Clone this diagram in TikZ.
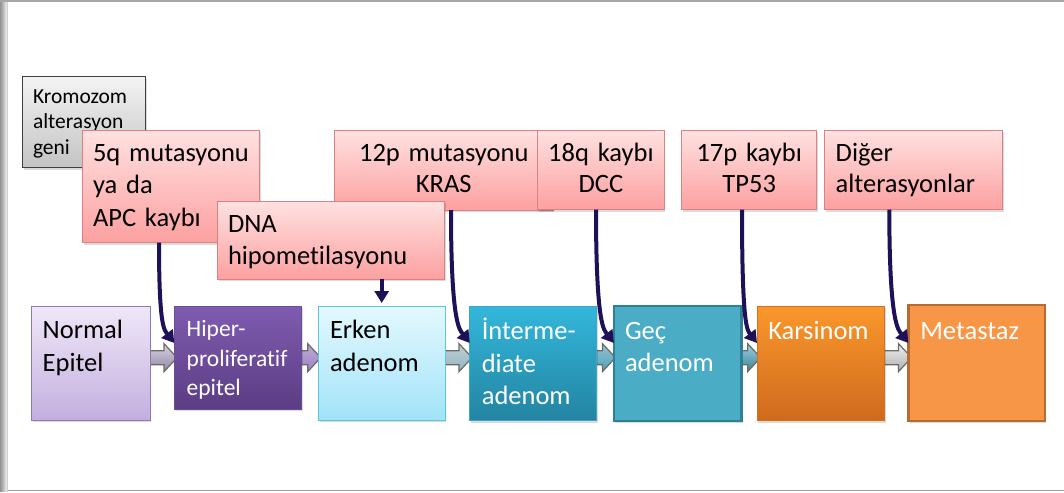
\documentclass[tikz,border=0pt]{standalone}
\usepackage{fontspec}
\setmainfont{Carlito}[Ligatures={NoCommon}]
\usetikzlibrary{arrows.meta,shadows,calc}
\pgfdeclarelayer{background}
\pgfsetlayers{background,main}

\definecolor{pinktop}{HTML}{FFE1E1}
\definecolor{pinkbot}{HTML}{FCA0A0}
\definecolor{pinkline}{HTML}{D98282}
\definecolor{graytop}{HTML}{F3F3F3}
\definecolor{graybot}{HTML}{C3C3C3}
\definecolor{grayline}{HTML}{3F3F3F}
\definecolor{normtop}{HTML}{EFE7F8}
\definecolor{normbot}{HTML}{C3AFDF}
\definecolor{normline}{HTML}{8E79B8}
\definecolor{hiptop}{HTML}{7F5CB0}
\definecolor{hipbot}{HTML}{5B3D83}
\definecolor{hipline}{HTML}{6A4E96}
\definecolor{erktop}{HTML}{E4F8FE}
\definecolor{erkbot}{HTML}{A1E3F8}
\definecolor{erkline}{HTML}{5BC5DD}
\definecolor{inttop}{HTML}{33B7DB}
\definecolor{intbot}{HTML}{2384A2}
\definecolor{intline}{HTML}{3AA9C9}
\definecolor{gecfill}{HTML}{4BACC6}
\definecolor{gecline}{HTML}{2F7F95}
\definecolor{kartop}{HTML}{FA972B}
\definecolor{karbot}{HTML}{CF6A1D}
\definecolor{metfill}{HTML}{F79646}
\definecolor{metline}{HTML}{B86B2F}
\definecolor{navy}{HTML}{1E1158}
\definecolor{arrowline}{HTML}{6A6A6A}

% fat block arrow between two stage boxes:
% #1 start point, #2 total length, #3 top colour, #4 bottom colour
\newcommand{\flowarrow}[4]{%
  \draw[line width=1.2pt, draw=arrowline, top color=#3, bottom color=#4]
    (#1) ++(0,-7) -- ++({#2-13},0) -- ++(0,-7) -- ++(13,14)
    -- ++(-13,14) -- ++(0,-7) -- ++({-(#2-13)},0) -- cycle;}

\begin{document}
\begin{tikzpicture}[x=1pt,y=-1pt,
  box/.style={anchor=north west, inner sep=0pt, outer sep=0pt, line width=1pt,
    drop shadow={shadow xshift=1.2pt, shadow yshift=-2pt, opacity=0.14, fill=black}},
  pinkbox/.style={box, draw=pinkline, top color=pinktop, bottom color=pinkbot},
  lbl/.style={anchor=base west, inner sep=0pt, outer sep=0pt, align=left, text width=#1},
  clbl/.style={anchor=base, inner sep=0pt, outer sep=0pt, align=center, text width=#1},
  navyarrow/.style={draw=navy, line width=4pt, -{Triangle[length=12pt,width=14pt]}},
]
\useasboundingbox (0,0) rectangle (1064,492);

% page frame: soft left edge, thin top and bottom rules
\begin{pgfonlayer}{background}
  \fill[white] (0,0) rectangle (1064,492);
  \foreach \i/\c in {0/42,1/38,2/33,3/27,4/21,5/15,6/10,7/18}
    \fill[black!\c] (\i,0) rectangle (\i+1,492);
  \draw[black!35, line width=1.6pt] (0,0.8) -- (1064,0.8);
  \draw[black!38, line width=1.6pt] (8,490.6) -- (1064,490.6);
\end{pgfonlayer}

% alteration boxes (upper row)
\node[box, draw=grayline, top color=graytop, bottom color=graybot,
      minimum width=123pt, minimum height=91pt] (krom) at (22.7,76.7) {};
\node[lbl=115pt, font={\fontsize{21.5}{25.5}\selectfont}] (tkrom)
  at ([xshift=10.3pt,yshift=-26.6pt]krom.north west) {Kromozom\\alterasyon\\geni};

\node[pinkbox, minimum width=176.6pt, minimum height=112.7pt] (n5q) at (82.7,130) {};
\node[lbl=170pt, font={\fontsize{26.5}{32.5}\selectfont}] (t5q)
  at ([xshift=10.3pt,yshift=-31pt]n5q.north west) {5q mutasyonu\\ya da\\APC kaybı};

\node[pinkbox, minimum width=218.5pt, minimum height=80pt] (n12p) at (334.5,130) {};
\node[clbl=215pt, font={\fontsize{26.5}{31}\selectfont}] (t12p)
  at ([yshift=-31.7pt]n12p.north) {12p mutasyonu\\KRAS};

\node[pinkbox, minimum width=126.3pt, minimum height=79.5pt] (n18q) at (537.7,130) {};
\node[clbl=125pt, font={\fontsize{26.5}{31}\selectfont}] (t18q)
  at ([yshift=-31.7pt]n18q.north) {18q kaybı\\DCC};

\node[pinkbox, minimum width=135pt, minimum height=79.5pt] (n17p) at (681.7,130) {};
\node[clbl=134pt, font={\fontsize{26.5}{31}\selectfont}] (t17p)
  at ([yshift=-31.7pt]n17p.north) {17p kaybı\\TP53};

\node[pinkbox, minimum width=178.4pt, minimum height=79.5pt] (ndig) at (824.3,130) {};
\node[lbl=170pt, font={\fontsize{26.5}{31}\selectfont}] (tdig)
  at ([xshift=11.4pt,yshift=-31.7pt]ndig.north west) {Diğer\\alterasyonlar};

\node[pinkbox, minimum width=226.6pt, minimum height=78.3pt] (ndna) at (217.7,201) {};
\node[lbl=220pt, font={\fontsize{26.5}{31.5}\selectfont}] (tdna)
  at ([xshift=10.3pt,yshift=-31.7pt]ndna.north west) {DNA\\hipometilasyonu};

% stage boxes (lower row)
\node[box, draw=normline, top color=normtop, bottom color=normbot,
      minimum width=118.3pt, minimum height=113.3pt] (normal) at (31.7,306.7) {};
\node[lbl=110pt, font={\fontsize{26.5}{33.4}\selectfont}] (tnormal)
  at ([xshift=11pt,yshift=-31.6pt]normal.north west) {Normal\\Epitel};

\node[box, draw=hipline, top color=hiptop, bottom color=hipbot,
      minimum width=127.4pt, minimum height=103.3pt] (hiper) at (174.3,306) {};
\node[lbl=120pt, text=white, font={\fontsize{23.5}{29.3}\selectfont}] (thiper)
  at ([xshift=12.4pt,yshift=-30.7pt]hiper.north west) {Hiper-\\proliferatif\\epitel};

\node[box, draw=erkline, top color=erktop, bottom color=erkbot,
      minimum width=126.7pt, minimum height=114pt] (erken) at (318.3,306) {};
\node[lbl=120pt, font={\fontsize{26.5}{33.4}\selectfont}] (terken)
  at ([xshift=11.7pt,yshift=-32.3pt]erken.north west) {Erken\\adenom};

\node[box, draw=intline, top color=inttop, bottom color=intbot,
      minimum width=126.6pt, minimum height=114.7pt] (interm) at (469.8,306) {};
\node[lbl=120pt, text=white, font={\fontsize{26.5}{32.8}\selectfont}] (tinterm)
  at ([xshift=12pt,yshift=-33.3pt]interm.north west) {İnterme-\\diate\\adenom};

\node[box, draw=gecline, line width=2.5pt, fill=gecfill,
      minimum width=127.7pt, minimum height=115pt] (gec) at (613.9,306) {};
\node[lbl=120pt, text=white, font={\fontsize{26.5}{32.4}\selectfont}] (tgec)
  at ([xshift=11.1pt,yshift=-33.3pt]gec.north west) {Geç\\adenom};

\node[box, draw=karbot!90!kartop, top color=kartop, bottom color=karbot,
      minimum width=127.5pt, minimum height=114.7pt] (kars) at (757,306) {};
\node[lbl=120pt, text=white, font={\fontsize{26.5}{32.4}\selectfont}] (tkars)
  at ([xshift=11.3pt,yshift=-33.3pt]kars.north west) {Karsinom};

\node[box, draw=metline, line width=2.5pt, fill=metfill,
      minimum width=136.6pt, minimum height=116pt] (meta) at (908.4,305) {};
\node[lbl=125pt, text=white, font={\fontsize{26.5}{32.4}\selectfont}] (tmeta)
  at ([xshift=11.9pt,yshift=-34pt]meta.north west) {Metastaz};

% block arrows between the stages (behind the boxes)
\begin{pgfonlayer}{background}
  \flowarrow{$(normal.east |- hiper.west)+(-2,0)$}{29}{normtop!80!gray}{normbot!75!black}
  \flowarrow{$(hiper.east |- hiper.west)+(-2,0)$}{21}{normbot!90!gray}{hiptop!55!normbot}
  \flowarrow{$(erken.east |- hiper.west)+(-2,0)$}{29}{erktop!65!gray}{erkbot!55!gray}
  \flowarrow{$(interm.east |- hiper.west)+(-2,0)$}{21}{erkbot!65!gray}{inttop!65!gray}
  \flowarrow{$(gec.east |- hiper.west)+(-2,0)$}{21}{gecfill!55!white}{gecfill!75!black}
  \flowarrow{$(kars.east |- hiper.west)+(-2,0)$}{29}{black!6}{black!32}
\end{pgfonlayer}

% alterations acting on the stages
\draw[navyarrow] ([xshift=76.3pt]n5q.south west)
  .. controls +(0,85) and +(-10,-13) .. ([yshift=-37pt]hiper.north west);
\draw[navyarrow] ([xshift=116.5pt]n12p.south west)
  .. controls +(0,115) and +(-10,-13) .. ([yshift=-37pt]interm.north west);
\draw[navyarrow] ([xshift=58.3pt]n18q.south west)
  .. controls +(0,115) and +(-10,-13) .. ([yshift=-37pt]gec.north west);
\draw[navyarrow] ([xshift=60.3pt]n17p.south west)
  .. controls +(0,115) and +(-10,-13) .. ([yshift=-37pt]kars.north west);
\draw[navyarrow] ([xshift=65pt]ndig.south west)
  .. controls +(0,115) and +(-10,-13) .. ([yshift=-38pt]meta.north west);
\draw[navyarrow] ([xshift=164pt]ndna.south west) -- ([xshift=63.4pt,yshift=3pt]erken.north west);
\end{tikzpicture}
\end{document}
